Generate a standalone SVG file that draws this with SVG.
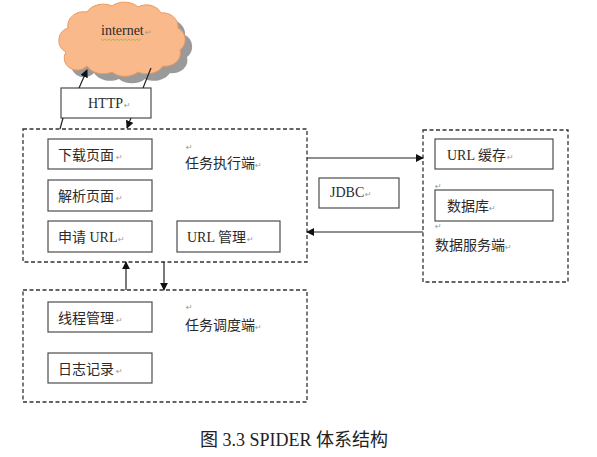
<svg xmlns="http://www.w3.org/2000/svg" width="597" height="457" viewBox="0 0 597 457">
<style>
.bx{fill:#fff;stroke:#4d4d4d;stroke-width:1.2}
.ds{fill:none;stroke:#333;stroke-width:1.3;stroke-dasharray:4 2.5}
.t{font-family:"Liberation Serif","Noto Sans CJK SC",serif;font-size:14px;fill:#2a2a2a}
.pm{font-family:"DejaVu Sans",sans-serif;font-size:8px;fill:#999}
.ln{stroke:#222;stroke-width:1.2;fill:none}
.cap{font-family:"Liberation Serif","Noto Sans CJK SC",serif;font-size:18px;fill:#222}
</style>
<defs>
<marker id="ah" viewBox="0 0 10 10" refX="9" refY="5" markerWidth="8" markerHeight="8" markerUnits="userSpaceOnUse" orient="auto">
<path d="M0,0 L10,5 L0,10 z" fill="#111"/>
</marker>
<path id="cloud" d="M66,52 A13,13 0 0 1 68,28 A16,14 0 0 1 87,12 A18,14 0 0 1 112,6 A18,14 0 0 1 138,7 A16,14 0 0 1 161,13 A15,14 0 0 1 178,28 A13,13 0 0 1 180,50 A15,13 0 0 1 163,66 A18,14 0 0 1 138,72 A18,14 0 0 1 112,72 A18,14 0 0 1 87,66 A13,12 0 0 1 66,52 Z"/>
</defs>

<g id="internet">
<use href="#cloud" transform="translate(7,7)" fill="#9a9a9a"/>
<use href="#cloud" fill="#f9b98a" stroke="#e89a5c" stroke-width="1"/>
<text class="t" x="101" y="35">internet</text>
<path d="M101,39 l2,1.5 l2,-1.5 l2,1.5 l2,-1.5 l2,1.5 l2,-1.5 l2,1.5 l2,-1.5 l2,1.5 l2,-1.5 l2,1.5 l2,-1.5 l2,1.5 l2,-1.5 l2,1.5 l2,-1.5 l2,1.5 l2,-1.5 l2,1.5 l2,-1.5" fill="none" stroke="#9bb53a" stroke-width="0.8"/>
<text class="pm" x="145" y="35">↵</text>
</g>

<g id="http">
<rect class="bx" x="61" y="88" width="90" height="30"/>
<text class="t" x="88" y="108">HTTP</text>
<text class="pm" x="124" y="108">↵</text>
</g>

<g id="exec">
<rect class="ds" x="23" y="129" width="284" height="133"/>
<text class="pm" x="186" y="150">↵</text>
<text class="t" x="185" y="168">任务执行端</text>
<text class="pm" x="255" y="168">↵</text>
</g>
<g id="download">
<rect class="bx" x="48" y="139" width="104" height="30"/>
<text class="t" x="58" y="160">下载页面</text>
<text class="pm" x="116" y="160">↵</text>
</g>
<g id="parse">
<rect class="bx" x="48" y="180" width="104" height="31"/>
<text class="t" x="58" y="201">解析页面</text>
<text class="pm" x="116" y="201">↵</text>
</g>
<g id="apply">
<rect class="bx" x="48" y="221" width="104" height="31"/>
<text class="t" x="58" y="242">申请 URL</text>
<text class="pm" x="118" y="242">↵</text>
</g>
<g id="urlmgr">
<rect class="bx" x="177" y="221" width="103" height="31"/>
<text class="t" x="187" y="242">URL 管理</text>
<text class="pm" x="247" y="242">↵</text>
</g>

<g id="jdbc">
<rect class="bx" x="319" y="178" width="80" height="30"/>
<text class="t" x="330" y="197">JDBC</text>
<text class="pm" x="365" y="197">↵</text>
</g>

<g id="dataservice">
<rect class="ds" x="423" y="130" width="145" height="152"/>
<text class="pm" x="435" y="189">↵</text>
<text class="pm" x="435" y="229">↵</text>
<text class="t" x="435" y="250">数据服务端</text>
<text class="pm" x="505" y="250">↵</text>
</g>
<g id="urlcache">
<rect class="bx" x="435" y="139" width="118" height="30"/>
<text class="t" x="447" y="160">URL 缓存</text>
<text class="pm" x="507" y="160">↵</text>
</g>
<g id="db">
<rect class="bx" x="435" y="190" width="118" height="31"/>
<text class="t" x="447" y="211">数据库</text>
<text class="pm" x="489" y="211">↵</text>
</g>

<g id="scheduler">
<rect class="ds" x="23" y="290" width="284" height="112"/>
<text class="pm" x="186" y="310">↵</text>
<text class="t" x="185" y="330">任务调度端</text>
<text class="pm" x="255" y="330">↵</text>
</g>
<g id="thread">
<rect class="bx" x="48" y="302" width="104" height="30"/>
<text class="t" x="58" y="323">线程管理</text>
<text class="pm" x="116" y="323">↵</text>
</g>
<g id="log">
<rect class="bx" x="48" y="353" width="104" height="30"/>
<text class="t" x="58" y="374">日志记录</text>
<text class="pm" x="116" y="374">↵</text>
</g>

<g id="connectors">
<line class="ln" x1="79" y1="88" x2="87" y2="70" marker-end="url(#ah)"/>
<line class="ln" x1="143" y1="88" x2="151" y2="68"/>
<line class="ln" x1="60" y1="129" x2="63" y2="118"/>
<line class="ln" x1="131" y1="118" x2="127" y2="128" marker-end="url(#ah)"/>
<line class="ln" x1="307" y1="158" x2="423" y2="158" marker-end="url(#ah)"/>
<line class="ln" x1="423" y1="232" x2="307" y2="232" marker-end="url(#ah)"/>
<line class="ln" x1="126" y1="290" x2="126" y2="262" marker-end="url(#ah)"/>
<line class="ln" x1="164" y1="262" x2="164" y2="290" marker-end="url(#ah)"/>
</g>

<text class="cap" x="200" y="446">图 3.3 SPIDER 体系结构</text>
</svg>
